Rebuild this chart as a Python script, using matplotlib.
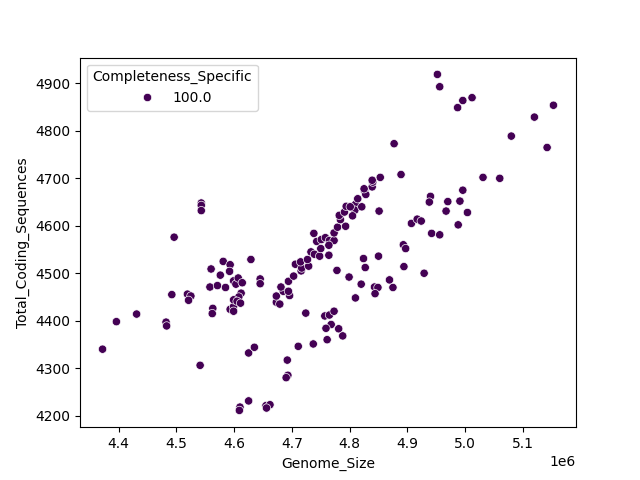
import numpy as np
import pandas as pd
import seaborn as sns
from matplotlib import pyplot as plt

# genome size in Mb (scaled to bp below) and total coding sequences
genome_mb = [
    4.372, 4.396, 4.431, 4.482, 4.483, 4.496, 4.492, 4.519, 4.525, 4.521,
    4.541, 4.543, 4.543, 4.543, 4.563, 4.562, 4.560, 4.558, 4.571, 4.576,
    4.581, 4.585, 4.593, 4.592, 4.593, 4.599, 4.599, 4.599, 4.603, 4.607,
    4.614, 4.612, 4.608, 4.599, 4.605, 4.611, 4.629, 4.645, 4.645, 4.625,
    4.635, 4.625, 4.610, 4.609, 4.655, 4.662, 4.656, 4.673, 4.679, 4.692,
    4.693, 4.690, 4.711, 4.724, 4.737, 4.757, 4.765, 4.773, 4.768, 4.759,
    4.781, 4.788, 4.761, 4.673, 4.685, 4.681, 4.696, 4.694, 4.694, 4.703,
    4.706, 4.716, 4.717, 4.715, 4.729, 4.727, 4.733, 4.739, 4.748, 4.764,
    4.778, 4.799, 4.820, 4.843, 4.849, 4.844, 4.810, 4.875, 4.869, 4.824,
    4.827, 4.850, 4.894, 4.893, 4.897, 4.907, 4.917, 4.851, 4.743, 4.751,
    4.758, 4.765, 4.773, 4.773, 4.738, 4.750, 4.764, 4.779, 4.793, 4.784,
    4.782, 4.791, 4.794, 4.810, 4.809, 4.821, 4.814, 4.826, 4.828, 4.839,
    4.840, 4.801, 4.805, 4.877, 4.889, 4.853, 4.839, 4.825, 4.952, 4.956,
    4.996, 5.012, 4.987, 5.153, 5.120, 5.080, 5.142, 5.031, 5.060, 4.996,
    4.940, 4.938, 4.970, 4.991, 4.967, 5.004, 4.988, 4.924, 4.942, 4.956,
    4.929,
]
coding_seqs = [
    4340, 4398, 4414, 4397, 4389, 4576, 4455, 4456, 4452, 4443,
    4306, 4648, 4643, 4632, 4426, 4415, 4509, 4471, 4474, 4496,
    4525, 4470, 4518, 4504, 4424, 4430, 4420, 4484, 4477, 4490,
    4480, 4458, 4450, 4444, 4441, 4437, 4529, 4488, 4478, 4332,
    4344, 4231, 4218, 4211, 4221, 4223, 4216, 4439, 4435, 4317,
    4285, 4280, 4346, 4416, 4351, 4410, 4412, 4420, 4392, 4384,
    4383, 4368, 4360, 4452, 4462, 4471, 4453, 4462, 4483, 4494,
    4519, 4505, 4511, 4524, 4515, 4529, 4545, 4540, 4536, 4538,
    4506, 4492, 4477, 4471, 4470, 4457, 4448, 4470, 4486, 4531,
    4512, 4536, 4514, 4560, 4552, 4605, 4614, 4631, 4567, 4571,
    4575, 4569, 4569, 4585, 4584, 4552, 4559, 4597, 4599, 4613,
    4622, 4629, 4641, 4645, 4633, 4640, 4657, 4673, 4666, 4682,
    4692, 4640, 4621, 4773, 4708, 4702, 4696, 4678, 4919, 4893,
    4864, 4870, 4849, 4854, 4829, 4789, 4765, 4702, 4700, 4675,
    4662, 4650, 4651, 4652, 4631, 4628, 4602, 4610, 4584, 4581,
    4500,
]
completeness = [100.0] * len(genome_mb)

df = pd.DataFrame({
    "Genome_Size": np.array(genome_mb) * 1e6,
    "Total_Coding_Sequences": coding_seqs,
    "Completeness_Specific": completeness,
})

plt.figure(figsize=(6.4, 4.8), dpi=100)
sns.scatterplot(data=df, x="Genome_Size", y="Total_Coding_Sequences",
                hue="Completeness_Specific", palette="viridis")
plt.savefig("out.png")
